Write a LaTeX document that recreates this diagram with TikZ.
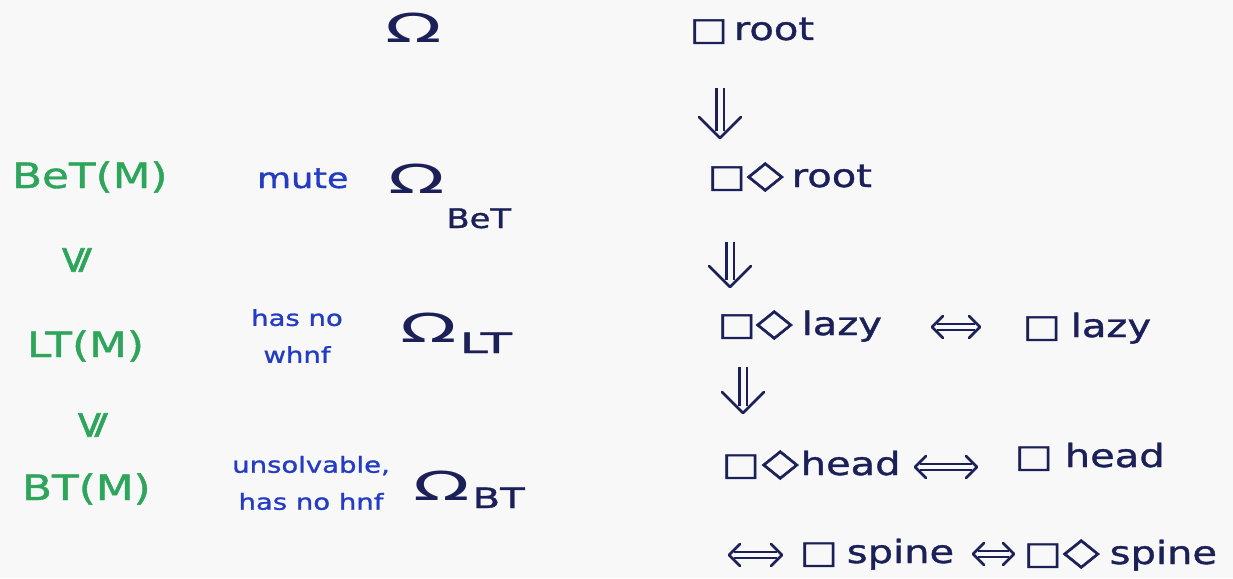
\documentclass[tikz,border=0pt]{standalone}
\usepackage{fontspec}
\setmainfont{DejaVu Sans}
\newfontfamily\hand[FakeStretch=1.25,FakeBold=1.2]{DejaVu Sans}
\newfontfamily\plainf{DejaVu Sans}
\newfontfamily\symf[FakeBold=1.5]{DejaVu Sans}
\usetikzlibrary{calc}
\definecolor{ink}{RGB}{28,32,88}
\definecolor{grn}{RGB}{45,165,90}
\definecolor{blu}{RGB}{35,60,195}
\definecolor{paper}{RGB}{247,248,247}
\newcommand{\sqr}{□}
\newcommand{\dmd}{\scalebox{1.2}{◇}}
\newcommand{\Om}{\scalebox{1.85}[1]{Ω}}
\newcommand{\vle}{\scalebox{1.4}[1.25]{\rotatebox{90}{\symf ⩽}}}
\newcommand{\dnarr}[2]{%
  \draw[dshaft] (#1) -- ($(#2)+(0,-7)$);
  \draw[headst] ($(#2)+(-21,-21)$) -- (#2) -- ($(#2)+(21,-21)$);}
\newcommand{\lrarr}[2]{%
  \draw[dshaftb] ($(#1)+(5,0)$) -- ($(#2)+(-5,0)$);
  \draw[headst] ($(#1)+(11,-11)$) -- (#1) -- ($(#1)+(11,11)$);
  \draw[headst] ($(#2)+(-11,-11)$) -- (#2) -- ($(#2)+(-11,11)$);}
\begin{document}
\begin{tikzpicture}[x=1pt,y=-1pt,
  every node/.style={inner sep=0pt,outer sep=0pt},
  inkrow/.style={text=ink,font=\hand\fontsize{32}{36}\selectfont,anchor=base west},
  grnlab/.style={text=grn,font=\hand\fontsize{35}{38}\selectfont,anchor=base west},
  blulab/.style={text=blu,font=\hand\fontsize{28}{30}\selectfont,anchor=base west},
  blusmall/.style={text=blu,font=\hand\fontsize{22}{37}\selectfont,align=center,anchor=center},
  omlab/.style={text=ink,font=\plainf\fontsize{40}{44}\selectfont,anchor=base west},
  relsym/.style={text=grn,anchor=center,font=\fontsize{30}{32}\selectfont},
  dshaft/.style={draw=ink,line width=2.2pt,double=paper,double distance=5pt},
  dshaftb/.style={draw=ink,line width=2.2pt,double=paper,double distance=4.5pt},
  headst/.style={draw=ink,line width=2.6pt,line cap=round,line join=round}
]
\path[use as bounding box,fill=paper] (0,0) rectangle (1233,578);

% left column
\node[grnlab] (g1) at (12,188) {BeT(M)};
\node[relsym] (le1) at (77,260) {\vle};
\node[grnlab] (g2) at (27,357) {LT(M)};
\node[relsym] (le2) at (93,425) {\vle};
\node[grnlab] (g3) at (22,500) {BT(M)};

% blue labels
\node[blulab] (b1) at (257,188) {mute};
\node[blusmall] (b2) at (297,336) {has no\\whnf};
\node[blusmall] (b3) at (311,483) {unsolvable,\\has no hnf};

% omegas
\node[omlab] (o0) at (385,42) {\Om};
\node[omlab] (o1) at (388,193) {\Om\hspace{2pt}\raisebox{-35pt}{\hand\fontsize{27}{28}\selectfont BeT}};
\node[omlab] (o2) at (400,342) {\Om\hspace{3pt}\raisebox{-11pt}{\hand\fontsize{28}{28}\selectfont\scalebox{1.45}[1]{LT}}};
\node[omlab] (o3) at (413,500) {\Om\hspace{3pt}\raisebox{-8pt}{\hand\fontsize{28}{28}\selectfont\scalebox{1.15}[1]{BT}}};

% right column
\node[inkrow] (r1) at (690,40) {\sqr\hspace{6pt}root};
\node[inkrow] (r2) at (708,187) {\sqr\hspace{1pt}\dmd\hspace{8pt}root};
\node[inkrow] (r3) at (718,335) {\sqr\dmd\hspace{9pt}lazy};
\node[inkrow] (r4) at (1023,337) {\sqr\hspace{10pt}lazy};
\node[inkrow] (r5) at (722,475) {\sqr\hspace{2pt}\dmd\hspace{2pt}head};
\node[inkrow] (r6) at (1015,467) {\sqr\hspace{12pt}head};
\node[inkrow] (s1) at (800,563) {\sqr\hspace{9pt}spine};
\node[inkrow] (s2) at (1024,564) {\sqr\hspace{1pt}\dmd\hspace{10pt}spine};
\coordinate (c7) at (729,555);

% connector end points
\coordinate (a1s) at ($(r1.base west)+(30,48)$);
\coordinate (a1e) at ($(r2.base west)+(12,-49)$);
\coordinate (a2s) at ($(r2.base west)+(22,55)$);
\coordinate (a2e) at ($(r3.base west)+(12,-48)$);
\coordinate (a3s) at ($(r3.base west)+(25,32)$);
\coordinate (a3e) at ($(r5.base west)+(21,-62)$);
\coordinate (h1s) at ($(r3.base west)+(214,-8)$);
\coordinate (h1e) at ($(r4.base west)+(-43,-10)$);
\coordinate (h2s) at ($(r5.base west)+(193,-8)$);
\coordinate (h2e) at ($(r6.base west)+(-38,0)$);
\coordinate (h3e) at ($(s1.base west)+(-18,-8)$);
\coordinate (h4s) at ($(s1.base west)+(173,-9)$);
\coordinate (h4e) at ($(s2.base west)+(-10,-10)$);

% connectors
\dnarr{a1s}{a1e}
\dnarr{a2s}{a2e}
\dnarr{a3s}{a3e}
\lrarr{h1s}{h1e}
\lrarr{h2s}{h2e}
\lrarr{c7}{h3e}
\lrarr{h4s}{h4e}
\end{tikzpicture}
\end{document}
